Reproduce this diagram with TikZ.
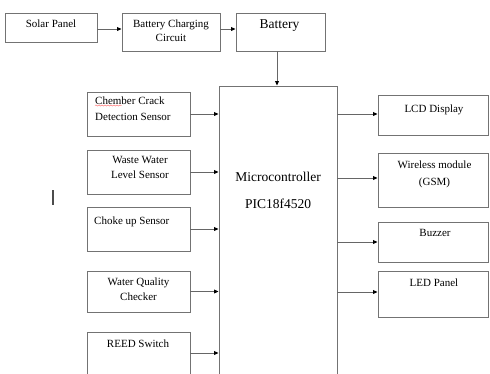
\documentclass[tikz,border=0pt]{standalone}
\usepackage{fontspec}
\setmainfont{Liberation Serif}
\usetikzlibrary{arrows.meta, positioning, decorations.pathmorphing}

\begin{document}
\begin{tikzpicture}[
    x=1pt, y=-1pt,
    blockbox/.style={rectangle, draw=black!55, line width=0.9pt, inner sep=0pt},
    txt/.style={inner sep=0pt, anchor=north, align=center, font=\fontsize{11}{15}\selectfont},
    bigtxt/.style={txt, font=\fontsize{13.5}{27}\selectfont},
    arrow/.style={draw=black!60, line width=0.8pt, -{Triangle[length=4.5pt,width=3.8pt,black]}}
]
\useasboundingbox (0,0) rectangle (490,373);
\clip (0,0) rectangle (490,373);

% top row
\node[blockbox, minimum width=92, minimum height=29] (solar) at (51,27.5) {};
\node[blockbox, minimum width=98, minimum height=38] (charger) at (171,32) {};
\node[blockbox, minimum width=89, minimum height=38] (battery) at (280.5,32) {};

% microcontroller
\node[blockbox, minimum width=118, minimum height=294] (micro) at (278,233) {};

% sensors
\node[blockbox, minimum width=103, minimum height=44] (crack) at (138.5,114) {};
\node[blockbox, minimum width=103, minimum height=44] (waste) at (138.5,172) {};
\node[blockbox, minimum width=103, minimum height=44] (choke) at (138.5,229) {};
\node[blockbox, minimum width=103, minimum height=41] (quality) at (138.5,291.5) {};
\node[blockbox, minimum width=103, minimum height=42] (reed) at (138.5,353) {};

% outputs
\node[blockbox, minimum width=110, minimum height=40] (lcd) at (433,115) {};
\node[blockbox, minimum width=110, minimum height=54] (gsm) at (433,180) {};
\node[blockbox, minimum width=110, minimum height=40] (buzzer) at (433,242) {};
\node[blockbox, minimum width=110, minimum height=46] (led) at (433,294) {};

% texts
\node[txt] (solar-t) at (51,19.5) {Solar Panel};
\node[txt, font=\fontsize{11}{14}\selectfont] (charger-t) at (171,19.5) {Battery Charging\\Circuit};
\node[bigtxt] (battery-t) at (279.5,19.8) {Battery};
\node[bigtxt] (micro-t) at (278,171.8) {Microcontroller\\PIC18f4520};
\node[txt, anchor=north west, align=left, font=\fontsize{11}{16}\selectfont] (crack-t) at (95,96.5) {Chember Crack\\Detection Sensor};
\node[txt] (waste-t) at (140,155.7) {Waste Water\\Level Sensor};
\node[txt, anchor=north west, align=left] (choke-t) at (94,216.5) {Choke up Sensor};
\node[txt] (quality-t) at (138.5,277.5) {Water Quality\\Checker};
\node[txt] (reed-t) at (138,339.5) {REED Switch};
\node[txt] (lcd-t) at (434,104.5) {LCD Display};
\node[txt, font=\fontsize{11}{17}\selectfont] (gsm-t) at (434.5,160.5) {Wireless module\\(GSM)};
\node[txt] (buzzer-t) at (435,229.5) {Buzzer};
\node[txt] (led-t) at (434,278.5) {LED Panel};

% spell-check mark and stray cursor
\draw[red!60, line width=0.4pt, decorate, decoration={snake, segment length=3pt, amplitude=0.6pt}] (95,105.5) -- (122,105.5);
\draw[black!70, line width=1.5pt] (53,190) -- (53,205);

% connectors
\draw[arrow] ([yshift=-1.5]solar.east) -- ([yshift=-1.5]solar.east -| charger.west);
\draw[arrow] ([yshift=3]charger.east) -- ([yshift=3]charger.east -| battery.west);
\draw[arrow] ([xshift=-3.5]battery.south) -- ([xshift=-3.5]battery.south |- micro.north);
\foreach \s in {crack, waste, choke, quality, reed}
  \draw[arrow] (\s) -- (\s -| micro.west);
\draw[arrow] ([yshift=1]micro.east |- lcd) -- ([yshift=1]lcd.west);
\draw[arrow] ([yshift=2]micro.east |- gsm) -- ([yshift=2]gsm.west);
\draw[arrow] (micro.east |- buzzer) -- (buzzer.west);
\draw[arrow] ([yshift=2]micro.east |- led) -- ([yshift=2]led.west);

\end{tikzpicture}
\end{document}
